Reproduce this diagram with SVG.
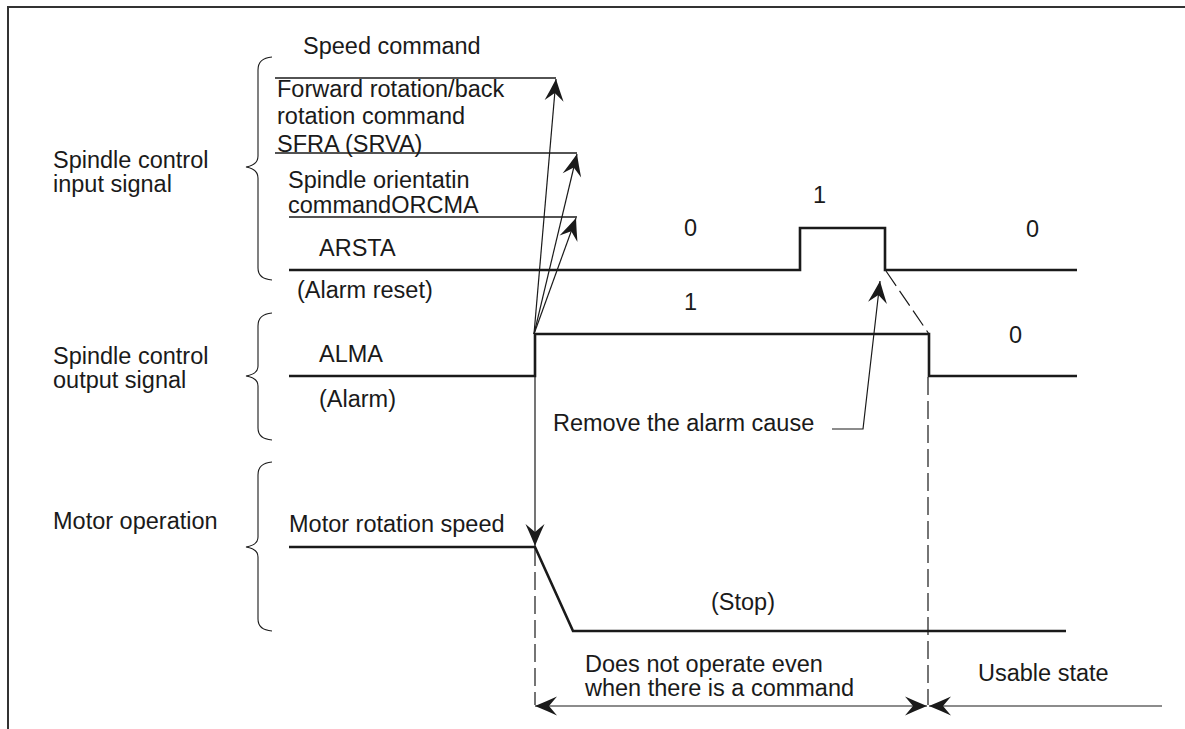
<svg xmlns="http://www.w3.org/2000/svg" width="1185" height="729" viewBox="0 0 1185 729">
<style>
text{font-family:"Liberation Sans",Arial,Helvetica,sans-serif;font-size:23.5px;fill:#1a1a1a}
.sig{fill:none;stroke:#1a1a1a;stroke-width:2.6;stroke-linejoin:miter}
.thin{fill:none;stroke:#1a1a1a;stroke-width:1.2}
.cmd{fill:none;stroke:#1a1a1a;stroke-width:1.4}
.brace{fill:none;stroke:#1a1a1a;stroke-width:1.1}
.dash{fill:none;stroke:#1a1a1a;stroke-width:1.2;stroke-dasharray:18 6}
.frame{fill:none;stroke:#333;stroke-width:2}
</style>
<defs>
<marker id="ah" viewBox="-24 -11 26 22" refX="0" refY="0" markerWidth="26" markerHeight="22" markerUnits="userSpaceOnUse" orient="auto-start-reverse">
<path d="M0,0 Q-11,-4.5 -22,-9.5 L-14,0 L-22,9.5 Q-11,4.5 0,0 Z" fill="#1a1a1a"/>
</marker>
</defs>
<rect width="1185" height="729" fill="#fff"/>
<path class="frame" d="M8,729 L8,7 L1185,7"/>

<g id="group-input">
<path class="brace" d="M272,57 Q258,58 258,70 L258,156 Q258,165 246,167 Q258,169 258,178 L258,268 Q258,279 272,280"/>
<text x="53" y="168">Spindle control</text>
<text x="53" y="192">input signal</text>
</g>
<g id="group-output">
<path class="brace" d="M272,313 Q258,314 258,326 L258,366 Q258,374 246,376 Q258,378 258,386 L258,428 Q258,439 272,440"/>
<text x="53" y="364">Spindle control</text>
<text x="53" y="388">output signal</text>
</g>
<g id="group-motor">
<path class="brace" d="M272,462 Q258,463 258,475 L258,537 Q258,545 246,547 Q258,549 258,557 L258,619 Q258,630 272,631"/>
<text x="53" y="529">Motor operation</text>
</g>

<g id="sig-speed">
<text x="303" y="54">Speed command</text>
<line class="cmd" x1="275" y1="78" x2="556" y2="78"/>
</g>
<g id="sig-sfra">
<text x="277" y="97">Forward rotation/back</text>
<text x="277" y="124">rotation command</text>
<text x="277" y="152">SFRA (SRVA)</text>
<line class="cmd" x1="275" y1="153" x2="577" y2="153"/>
</g>
<g id="sig-orcma">
<text x="288" y="188">Spindle orientatin</text>
<text x="288" y="213">commandORCMA</text>
<line class="cmd" x1="289" y1="217" x2="577" y2="217"/>
</g>
<g id="sig-arsta">
<text x="319" y="256">ARSTA</text>
<text x="297" y="298">(Alarm reset)</text>
<path class="sig" d="M289,270 L800,270 L800,228 L885,228 L885,270 L1077,270"/>
<text x="684" y="236">0</text>
<text x="813" y="203">1</text>
<text x="1026" y="237">0</text>
</g>
<g id="sig-alma">
<text x="319" y="362">ALMA</text>
<text x="319" y="407">(Alarm)</text>
<path class="sig" d="M289,376 L535,376 L535,334 L929,334 L929,376 L1077,376"/>
<text x="684" y="310">1</text>
<text x="1009" y="343">0</text>
</g>
<g id="sig-motor">
<text x="289" y="532">Motor rotation speed</text>
<path class="sig" d="M289,547 L535,547 L573,631 L1066,631"/>
<text x="711" y="610">(Stop)</text>
</g>
<g id="note-remove">
<text x="553" y="431">Remove the alarm cause</text>
</g>
<g id="note-noop">
<text x="585" y="672">Does not operate even</text>
<text x="585" y="696">when there is a command</text>
</g>
<g id="note-usable">
<text x="978" y="681">Usable state</text>
</g>

<g id="connectors">
<line class="thin" x1="534" y1="334" x2="556" y2="79" marker-end="url(#ah)"/>
<line class="thin" x1="534" y1="334" x2="577" y2="154" marker-end="url(#ah)"/>
<line class="thin" x1="534" y1="334" x2="576" y2="218" marker-end="url(#ah)"/>
<line class="thin" x1="535" y1="376" x2="535" y2="546" marker-end="url(#ah)"/>
<polyline class="thin" points="832,429 863,429 880,281" marker-end="url(#ah)"/>
<line class="dash" x1="886" y1="271" x2="929" y2="334"/>
<line class="dash" x1="535" y1="548" x2="535" y2="705"/>
<line class="dash" x1="928" y1="377" x2="928" y2="705"/>
<line class="thin" x1="535" y1="706" x2="927" y2="706" marker-start="url(#ah)" marker-end="url(#ah)"/>
<line class="thin" x1="1162" y1="706" x2="929" y2="706" marker-end="url(#ah)"/>
</g>
</svg>
